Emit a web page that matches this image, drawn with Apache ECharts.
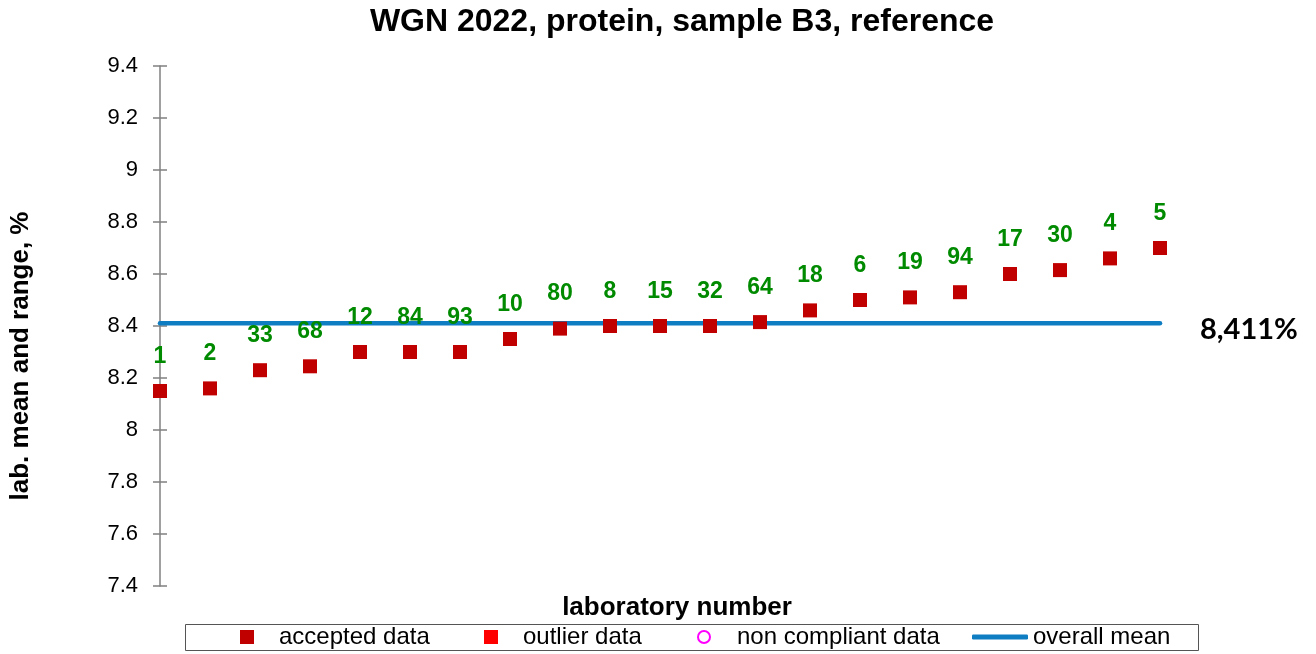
<!DOCTYPE html>
<html>
<head>
<meta charset="utf-8">
<script src="https://cdn.jsdelivr.net/npm/echarts@6/dist/echarts.min.js"></script>
<style>
  html, body { margin: 0; padding: 0; background: #fff; }
  #chart { width: 1316px; height: 654px; }
</style>
</head>
<body>
<div id="chart"></div>
<script>
// lab numbers in plotted order, and their means (%)
const labs = ["1", "2", "33", "68", "12", "84", "93", "10", "80", "8", "15", "32", "64", "18", "6", "19", "94", "17", "30", "4", "5"];
const means = [8.15, 8.16, 8.23, 8.245, 8.30, 8.30, 8.30, 8.35, 8.39, 8.40, 8.40, 8.40, 8.415, 8.46, 8.50, 8.51, 8.53, 8.60, 8.615, 8.66, 8.70];
const overallMean = 8.411;
const yTicks = { min: 7.4, max: 9.4, step: 0.2 };

const chart = echarts.init(document.getElementById("chart"), null, { renderer: "canvas" });
const FONT = "Liberation Sans, Arial, sans-serif";
const accepted = means.map((v, i) => [i, v]);
const lastX = labs.length - 1;

const legendItem = (name, left, icon, w, h, gap) => ({
  data: [{ name, icon }],
  left, top: 625, itemWidth: w, itemHeight: h, padding: 0,
  textStyle: { fontFamily: FONT, fontSize: 24, color: "#000", padding: [0, 0, 0, gap] },
  selectedMode: false
});

chart.setOption({
  animation: false,
  grid: { left: 160, right: 156, top: 66, bottom: 68 },
  xAxis: {
    type: "value", min: 0, max: lastX,
    axisLine: { show: false }, axisTick: { show: false }, axisLabel: { show: false }, splitLine: { show: false }
  },
  yAxis: [{
    type: "value", min: yTicks.min, max: yTicks.max, interval: yTicks.step,
    axisLine: { show: true, lineStyle: { color: "#808080", width: 1.5 } },
    axisTick: { show: true, length: 7, lineStyle: { color: "#808080", width: 1.5 } },
    axisLabel: { margin: 22, fontFamily: FONT, fontSize: 22, color: "#000", formatter: v => +v.toFixed(1) + "" },
    splitLine: { show: false }
  }, {
    type: "value", min: yTicks.min, max: yTicks.max, interval: yTicks.step, position: "left", offset: 0,
    axisLine: { show: false },
    axisTick: { show: true, inside: true, length: 7, lineStyle: { color: "#808080", width: 1.5 } },
    axisLabel: { show: false }, splitLine: { show: false }
  }],
  legend: [
    legendItem("accepted data", 240, "rect", 14, 14, 20),
    legendItem("outlier data", 484, "rect", 14, 14, 20),
    legendItem("non compliant data", 697, "emptyCircle", 12, 12, 22),
    legendItem("overall mean", 972, "roundRect", 56, 5, 0)
  ],
  graphic: [
    { type: "text", x: 682, y: 22, style: { text: "WGN 2022, protein, sample B3, reference", fontFamily: FONT, fontSize: 32, fontWeight: "bold", fill: "#000", align: "center", verticalAlign: "middle" } },
    { type: "rect", shape: { x: 185.5, y: 624.5, width: 1013, height: 26 }, style: { fill: "none", stroke: "#555", lineWidth: 1 }, silent: true },
    { type: "text", x: 677, y: 608, style: { text: "laboratory number", fontFamily: FONT, fontSize: 26, fontWeight: "bold", fill: "#000", align: "center", verticalAlign: "middle" } },
    { type: "text", x: 21, y: 356, rotation: Math.PI / 2, style: { text: "lab. mean and range, %", fontFamily: FONT, fontSize: 26, fontWeight: "bold", fill: "#000", align: "center", verticalAlign: "middle" } },
    { type: "text", x: 1200, y: 330, style: { text: "8,411%", fontFamily: "Lato, Liberation Sans, sans-serif", fontSize: 29, fontWeight: "bold", fill: "#000", align: "left", verticalAlign: "middle" } }
  ],
  series: [
    {
      name: "overall mean", type: "line", showSymbol: false, symbol: "none",
      lineStyle: { color: "#0e7dc2", width: 4.5, cap: "round" },
      itemStyle: { color: "#0e7dc2" },
      data: [[0, overallMean], [lastX, overallMean]], z: 1
    },
    {
      name: "accepted data", type: "scatter", symbol: "rect", symbolSize: 14,
      itemStyle: { color: "#c00000", opacity: 1 },
      label: {
        show: true, position: "top", distance: 16,
        formatter: p => labs[p.dataIndex],
        fontFamily: FONT, fontSize: 23, fontWeight: "bold", color: "#008a00"
      },
      data: accepted, z: 3
    },
    { name: "outlier data", type: "scatter", symbol: "rect", symbolSize: 14, itemStyle: { color: "#ff0000", opacity: 1 }, data: [] },
    { name: "non compliant data", type: "scatter", symbol: "emptyCircle", symbolSize: 12, itemStyle: { color: "#ff00ff", borderColor: "#ff00ff", borderWidth: 2, opacity: 1 }, data: [] }
  ]
});

window.addEventListener("resize", () => chart.resize());
</script>
</body>
</html>
